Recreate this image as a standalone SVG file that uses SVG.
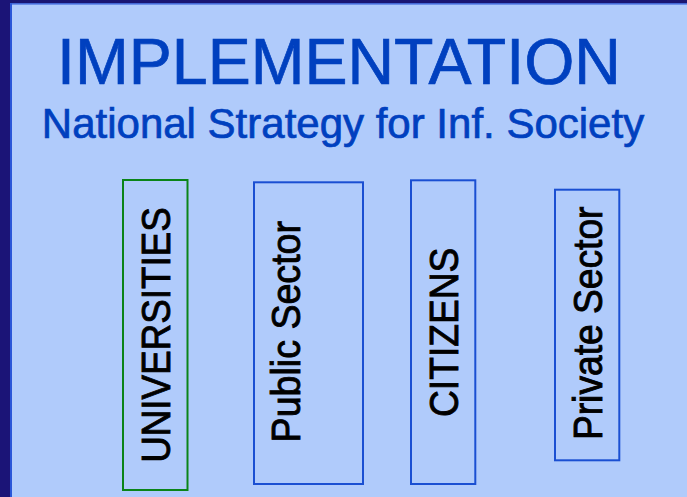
<svg xmlns="http://www.w3.org/2000/svg" width="687" height="497" viewBox="0 0 687 497">
<style>
.title{font-family:"Liberation Sans",Arial,sans-serif;fill:#0040bf;stroke:#0040bf;stroke-width:0.7;text-anchor:middle}
.box{fill:none;stroke-width:2}
.blue{stroke:#1a4fd2}
.green{stroke:#0a8418}
.lbl{font-family:"Liberation Sans",Arial,sans-serif;font-size:40px;fill:#000;stroke:#000;stroke-width:0.9;text-anchor:middle}
</style>
<rect x="0" y="0" width="687" height="497" fill="#b0cbfb"/>
<rect x="0" y="0" width="687" height="3.3" fill="#1a1672"/>
<rect x="0" y="3.3" width="687" height="1.2" fill="#2a56d8"/>
<rect x="0" y="0" width="10" height="497" fill="#1b1477"/>
<rect x="10" y="3.3" width="2" height="493.7" fill="#2a56d8"/>
<g id="title">
<text class="title" x="339" y="84.3" font-size="64.5">IMPLEMENTATION</text>
<text class="title" x="343" y="138" font-size="42">National Strategy for Inf. Society</text>
</g>
<g id="universities">
<rect class="box green" x="123" y="180" width="64.5" height="310"/>
<text class="lbl" transform="translate(170,335) rotate(-90) scale(0.92,1)">UNIVERSITIES</text>
</g>
<g id="public-sector">
<rect class="box blue" x="254" y="182.3" width="109" height="301.7"/>
<text class="lbl" transform="translate(300,331.7) rotate(-90) scale(0.94,1)">Public Sector</text>
</g>
<g id="citizens">
<rect class="box blue" x="411" y="180.3" width="64.3" height="303.7"/>
<text class="lbl" transform="translate(458.3,332.3) rotate(-90) scale(0.93,1)">CITIZENS</text>
</g>
<g id="private-sector">
<rect class="box blue" x="555" y="189.7" width="64.3" height="270.6"/>
<text class="lbl" transform="translate(601.5,323.3) rotate(-90) scale(0.93,1)">Private Sector</text>
</g>
</svg>
